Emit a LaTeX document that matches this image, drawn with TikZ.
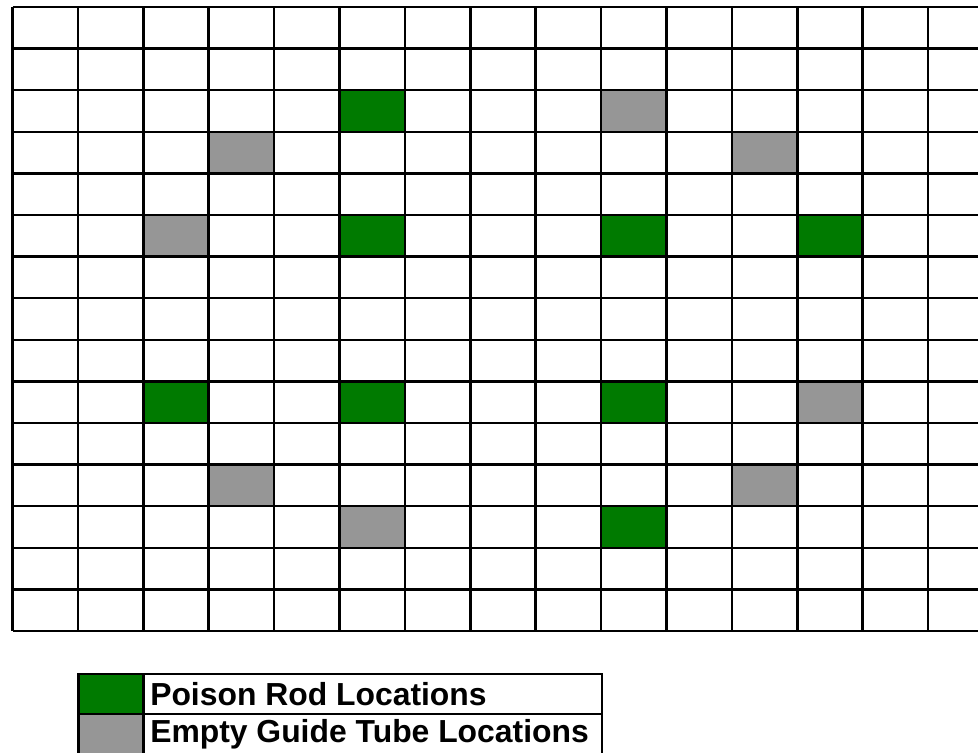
\documentclass[tikz,border=0pt]{standalone}
\usepackage{fontspec}
\setmainfont{Liberation Sans}
\definecolor{poison}{RGB}{0,122,0}
\definecolor{guide}{RGB}{150,150,150}
\begin{document}
\begin{tikzpicture}[x=0.75pt,y=-0.75pt,
  gridline/.style={line width=1.9pt,black},
  poisoncell/.style={fill=poison},
  guidecell/.style={fill=guide},
  legendtext/.style={font=\fontsize{23.9pt}{26pt}\selectfont\bfseries,anchor=west,inner sep=0pt}]
\useasboundingbox (0,0) rectangle (978,753);
\clip (0,0) rectangle (978,753);
\def\cw{65.4}
\def\rh{41.6}
\def\gx{12.5}
\def\gy{7}
% filled cells: col/row
\foreach \c/\r in {5/2,5/5,9/5,12/5,2/9,5/9,9/9,9/12}
  \fill[poisoncell] ({\gx+\c*\cw},{\gy+\r*\rh}) rectangle ++(\cw,\rh);
\foreach \c/\r in {9/2,3/3,11/3,2/5,12/9,3/11,11/11,5/12}
  \fill[guidecell] ({\gx+\c*\cw},{\gy+\r*\rh}) rectangle ++(\cw,\rh);
% grid lines
\foreach \k in {0,...,15}
  \draw[gridline] ({\gx+\k*\cw},\gy) -- ({\gx+\k*\cw},{\gy+15*\rh});
\foreach \k in {0,...,15}
  \draw[gridline] (\gx,{\gy+\k*\rh}) -- (1000,{\gy+\k*\rh});
% legend
\fill[poisoncell] (78.5,674) rectangle (143.5,714);
\fill[guidecell] (78.5,714) rectangle (143.5,754);
\draw[gridline] (78.5,674) rectangle (602,754);
\draw[gridline] (143.5,674) -- (143.5,754);
\draw[gridline] (78.5,714) -- (602,714);
\node[legendtext] (l1) at (150,694.5) {Poison Rod Locations};
\node[legendtext] (l2) at (150,734) {Empty Guide Tube Locations};
\end{tikzpicture}
\end{document}
